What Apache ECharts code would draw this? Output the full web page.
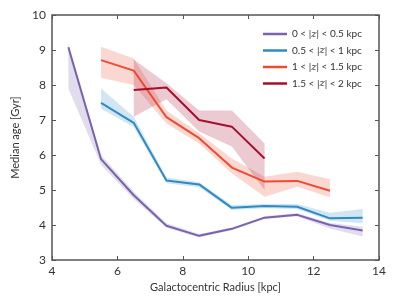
<!DOCTYPE html>
<html><head><meta charset="utf-8">
<script src="https://cdn.jsdelivr.net/npm/echarts@6/dist/echarts.min.js"></script>
<style>html,body{margin:0;padding:0;background:#fff}#c{width:399px;height:299px}</style>
</head><body><div id="c"></div>
<script>
const names = ['0 < |z| < 0.5 kpc','0.5 < |z| < 1 kpc','1 < |z| < 1.5 kpc','1.5 < |z| < 2 kpc'];
const labels = ['{n|0 < |}{i|z}{n|| < 0.5 kpc}','{n|0.5 < |}{i|z}{n|| < 1 kpc}','{n|1 < |}{i|z}{n|| < 1.5 kpc}','{n|1.5 < |}{i|z}{n|| < 2 kpc}'];
const colors = ['#7B62AE','#2E8BC4','#EE4A30','#A50F2D'];

const r0 = [4.5,5.5,6.5,7.5,8.5,9.5,10.5,11.5,12.5,13.5];
const mid0 = [9.08,5.88,4.85,3.98,3.69,3.89,4.21,4.29,4.00,3.84];
const lo0  = [7.90,5.72,4.74,3.92,3.64,3.85,4.17,4.24,3.90,3.67];
const hi0  = [9.20,6.00,4.95,4.05,3.74,3.93,4.25,4.34,4.06,3.95];

const r1 = [5.5,6.5,7.5,8.5,9.5,10.5,11.5,12.5,13.5];
const mid1 = [7.49,6.92,5.27,5.16,4.49,4.54,4.52,4.19,4.21];
const lo1  = [7.32,6.80,5.19,5.08,4.43,4.48,4.46,4.12,4.05];
const hi1  = [7.90,7.09,5.36,5.22,4.57,4.60,4.60,4.35,4.46];

const r2 = [5.5,6.5,7.5,8.5,9.5,10.5,11.5,12.5];
const mid2 = [8.71,8.41,7.08,6.48,5.64,5.24,5.26,4.98];
const lo2  = [8.21,8.00,6.90,6.33,5.48,4.81,5.09,4.79];
const hi2  = [9.09,8.76,7.27,6.62,5.90,5.38,5.52,5.31];

const r3 = [6.5,7.5,8.5,9.5,10.5];
const mid3 = [7.86,7.93,7.00,6.81,5.90];
const lo3  = [7.09,7.59,6.67,6.24,5.00];
const hi3  = [8.73,8.05,7.27,7.27,6.33];

const xTicks = [4,6,8,10,12,14];
const yTicks = [3,4,5,6,7,8,9,10];

const groups = [[r0,mid0,lo0,hi0],[r1,mid1,lo1,hi1],[r2,mid2,lo2,hi2],[r3,mid3,lo3,hi3]];

function hexA(h,a){const n=parseInt(h.slice(1),16);return `rgba(${n>>16},${(n>>8)&255},${n&255},${a})`;}

const series = [];
groups.forEach((g,k)=>{
  const [r,m,lo,hi]=g;
  series.push({
    type:'custom', silent:true, z:1,
    data:r.map((x,i)=>[x,lo[i],hi[i]]),
    encode:{x:0,y:[1,2]},
    renderItem:(params,api)=>{
      if(params.dataIndex!==0) return null;
      const pts=[];
      for(let i=0;i<r.length;i++) pts.push(api.coord([r[i],hi[i]]));
      for(let i=r.length-1;i>=0;i--) pts.push(api.coord([r[i],lo[i]]));
      return {type:'polygon',shape:{points:pts},style:{fill:hexA(colors[k],0.22)}};
    }
  });
});
groups.forEach((g,k)=>{
  const [r,m]=g;
  series.push({type:'line',name:names[k],data:r.map((x,i)=>[x,m[i]]),symbol:'none',
    lineStyle:{color:colors[k],width:2},itemStyle:{color:colors[k]},z:3});
});

const font = 'Lato, "DejaVu Sans", sans-serif';
const chart = echarts.init(document.getElementById('c'));
chart.setOption({
  animation:false,
  textStyle:{fontFamily:font},
  grid:{left:52,right:20,top:15,bottom:39,show:true,borderColor:'#555',borderWidth:1.5,backgroundColor:'transparent'},
  legend:{
    data:names, orient:'vertical', left:258, top:23, icon:'rect', itemWidth:24, itemHeight:2.5,
    itemGap:4.5,
    formatter:(n)=>labels[names.indexOf(n)],
    textStyle:{fontFamily:font,fontSize:10,color:'#333',lineHeight:12,
      rich:{n:{fontSize:10,color:'#333',fontFamily:font},i:{fontSize:10,color:'#333',fontStyle:'italic',fontFamily:'"DejaVu Serif", serif'}}}
  },
  xAxis:[{
    type:'value',min:4,max:14,interval:2,
    name:'Galactocentric Radius [kpc]',nameLocation:'middle',nameGap:20,
    nameTextStyle:{fontSize:11,color:'#333',fontFamily:font},
    axisLine:{show:false},splitLine:{show:false},
    axisTick:{inside:true,length:4,lineStyle:{color:'#555'}},
    axisLabel:{fontSize:12,color:'#333',margin:5,fontFamily:font}
  },{
    type:'value',position:'top',min:4,max:14,interval:2,
    axisLine:{show:false},splitLine:{show:false},
    axisTick:{inside:true,length:4,lineStyle:{color:'#555'}},axisLabel:{show:false}
  }],
  yAxis:[{
    type:'value',min:3,max:10,interval:1,
    name:'Median age [Gyr]',nameLocation:'middle',nameGap:26,
    nameTextStyle:{fontSize:11,color:'#333',fontFamily:font},
    axisLine:{show:false},splitLine:{show:false},
    axisTick:{inside:true,length:4,lineStyle:{color:'#555'}},
    axisLabel:{fontSize:12,color:'#333',margin:6,fontFamily:font}
  },{
    type:'value',position:'right',min:3,max:10,interval:1,
    axisLine:{show:false},splitLine:{show:false},
    axisTick:{inside:true,length:4,lineStyle:{color:'#555'}},axisLabel:{show:false}
  }],
  series:series
});
</script>
</body></html>
